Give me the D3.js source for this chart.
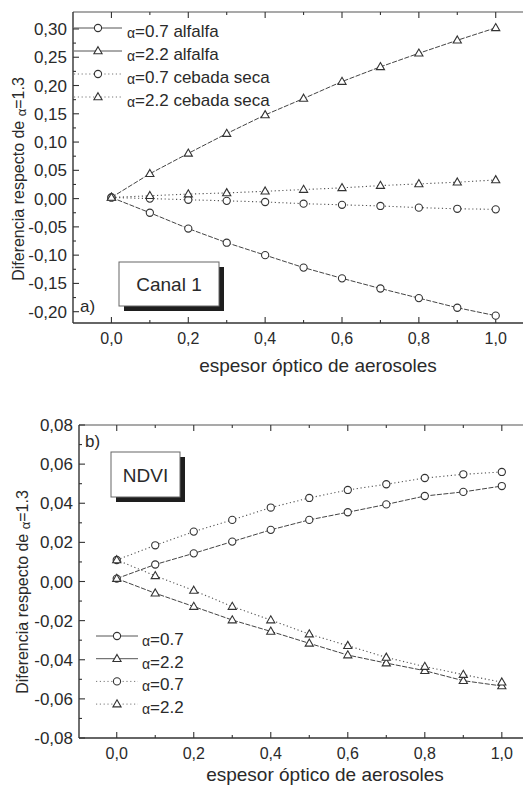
<!DOCTYPE html>
<html><head><meta charset="utf-8">
<script src="https://cdn.jsdelivr.net/npm/d3@7"></script>
<style>body{margin:0;background:#fff}text{font-family:"Liberation Sans",Arial,sans-serif;fill:#2a2a2a}</style>
</head><body>
<svg id="c" width="523" height="785"></svg>
<script>
const xs = [0,0.1,0.2,0.3,0.4,0.5,0.6,0.7,0.8,0.9,1.0];
// Panel a) Canal 1
const a07_alfalfa = [0.002,-0.025,-0.053,-0.078,-0.100,-0.122,-0.141,-0.159,-0.176,-0.193,-0.207];
const a22_alfalfa = [0.002,0.044,0.080,0.115,0.148,0.177,0.207,0.233,0.257,0.280,0.302];
const a07_cebada  = [0.002,0.000,-0.002,-0.004,-0.006,-0.009,-0.011,-0.013,-0.016,-0.018,-0.019];
const a22_cebada  = [0.002,0.005,0.008,0.010,0.013,0.016,0.019,0.023,0.026,0.029,0.033];
// Panel b) NDVI
const n07_solid  = [0.0015,0.0087,0.0144,0.0204,0.0264,0.0315,0.0354,0.0394,0.0437,0.0458,0.0488];
const n22_solid  = [0.0015,-0.0060,-0.0128,-0.0197,-0.0255,-0.0316,-0.0376,-0.0417,-0.0456,-0.0507,-0.0534];
const n07_dotted = [0.011,0.0185,0.0255,0.0315,0.0378,0.0427,0.0468,0.0497,0.0529,0.0548,0.0560];
const n22_dotted = [0.011,0.0029,-0.0046,-0.0128,-0.0197,-0.0269,-0.0328,-0.0388,-0.0435,-0.0476,-0.0515];

const xTicks = [0,0.2,0.4,0.6,0.8,1.0];
const xMinor = [0.1,0.3,0.5,0.7,0.9];
const yTicksA = [0.30,0.25,0.20,0.15,0.10,0.05,0.00,-0.05,-0.10,-0.15,-0.20];
const yTicksB = [0.08,0.06,0.04,0.02,0.00,-0.02,-0.04,-0.06,-0.08];
const legendA = ["0.7 alfalfa","2.2 alfalfa","0.7 cebada seca","2.2 cebada seca"];
const legendB = ["0.7","2.2","0.7","2.2"];
const xTitle = "espesor óptico de aerosoles";
const yTitle = "Diferencia respecto de ";

const svg = d3.select("#c");
const fmt = (d,n)=> d.toFixed(n).replace(".",",");
const ink = "#333";

function panel(cfg){
  const g = svg.append("g");
  const x = d3.scaleLinear().domain(cfg.xd).range([cfg.left, cfg.right]);
  const y = d3.scaleLinear().domain(cfg.yd).range([cfg.bottom, cfg.top]);
  g.append("line").attr("x1",cfg.left).attr("x2",cfg.right).attr("y1",cfg.bottom).attr("y2",cfg.bottom).attr("stroke",ink).attr("stroke-width",1.4);
  g.append("line").attr("x1",cfg.left).attr("x2",cfg.right).attr("y1",cfg.top).attr("y2",cfg.top).attr("stroke","#555").attr("stroke-width",1.2);
  g.append("line").attr("x1",cfg.left).attr("x2",cfg.left).attr("y1",cfg.top).attr("y2",cfg.bottom).attr("stroke",ink).attr("stroke-width",1.4);
  const tk = (arr,len)=>{
    arr.forEach(v=>{
      g.append("line").attr("x1",x(v)).attr("x2",x(v)).attr("y1",cfg.bottom).attr("y2",cfg.bottom-len).attr("stroke",ink).attr("stroke-width",1.1);
      g.append("line").attr("x1",x(v)).attr("x2",x(v)).attr("y1",cfg.top).attr("y2",cfg.top+len).attr("stroke",ink).attr("stroke-width",1.1);
    });
  };
  tk(xTicks,6); tk(xMinor,3);
  xTicks.forEach(v=>g.append("text").attr("x",x(v)).attr("y",cfg.bottom+21).attr("text-anchor","middle").attr("font-size",16).text(fmt(v,1)));
  cfg.yTicks.forEach(v=>{
    g.append("line").attr("x1",cfg.left).attr("x2",cfg.left+6).attr("y1",y(v)).attr("y2",y(v)).attr("stroke",ink).attr("stroke-width",1.1);
    g.append("text").attr("x",cfg.left-6).attr("y",y(v)+6).attr("text-anchor","end").attr("font-size",17).text(fmt(v,2));
  });
  cfg.yMinor.forEach(v=>{
    g.append("line").attr("x1",cfg.left).attr("x2",cfg.left+3).attr("y1",y(v)).attr("y2",y(v)).attr("stroke",ink).attr("stroke-width",1.1);
  });
  g.append("text").attr("x",cfg.xTitleX).attr("y",cfg.xTitleY).attr("text-anchor","middle").attr("font-size",19).text(xTitle);
  const yt = g.append("text").attr("transform",`translate(${cfg.yTitleX},${cfg.yTitleY}) rotate(-90)`).attr("text-anchor","middle").attr("font-size",16);
  yt.append("tspan").text(yTitle);
  yt.append("tspan").attr("font-size",13).attr("dy",2).text("α");
  yt.append("tspan").attr("dy",-2).text("=1.3");
  const line = d3.line().x((d,i)=>x(xs[i])).y(d=>y(d));
  cfg.series.forEach(s=>{
    g.append("path").attr("d",line(s.v)).attr("fill","none").attr("stroke",s.dot?"#555":"#444")
      .attr("stroke-width",s.dot?1.1:1).attr("stroke-dasharray",s.dot?"1.2,2.6":"5,1.5");
  });
  cfg.series.forEach(s=>{
    s.v.forEach((d,i)=>marker(g,s.m,x(xs[i]),y(d)));
  });
  cfg.legend.forEach((lab,i)=>{
    const s = cfg.series[i];
    const ly = cfg.legY + i*cfg.legDy;
    g.append("line").attr("x1",cfg.legX0).attr("x2",cfg.legX1).attr("y1",ly).attr("y2",ly)
      .attr("stroke",s.dot?"#777":"#555").attr("stroke-width",1).attr("stroke-dasharray",s.dot?"1.2,2.6":null);
    marker(g,s.m,(cfg.legX0+cfg.legX1)/2,ly);
    const t = g.append("text").attr("x",cfg.legTX).attr("y",ly+9).attr("font-size",17);
    t.append("tspan").attr("font-size",14).attr("dy",1).text("α");
    t.append("tspan").attr("dy",-1).text("="+lab);
  });
  const b = cfg.box;
  g.append("rect").attr("x",b.x+5).attr("y",b.y+5).attr("width",b.w).attr("height",b.h).attr("fill","#1e1e1e");
  g.append("rect").attr("x",b.x).attr("y",b.y).attr("width",b.w).attr("height",b.h).attr("fill","#fff").attr("stroke","#666").attr("stroke-width",1);
  g.append("text").attr("x",b.x+b.w/2).attr("y",b.y+b.h/2+7).attr("text-anchor","middle").attr("font-size",b.fs).text(b.t);
  g.append("text").attr("x",cfg.tagX).attr("y",cfg.tagY).attr("font-size",17).text(cfg.tag);
}
function marker(g,type,cx,cy){
  if(type==="o"){
    g.append("circle").attr("cx",cx).attr("cy",cy).attr("r",3.6).attr("fill","#fff").attr("stroke","#333").attr("stroke-width",1.1);
  } else {
    const r=4.3;
    g.append("path").attr("d",`M${cx},${cy-r}L${cx+r*0.95},${cy+r*0.65}L${cx-r*0.95},${cy+r*0.65}Z`).attr("fill","#fff").attr("stroke","#333").attr("stroke-width",1.1);
  }
}

panel({left:73,right:523,top:12,bottom:323,xd:[-0.1,1.071],yd:[-0.22,0.33],
  yTicks:yTicksA,yMinor:[0.275,0.225,0.175,0.125,0.075,0.025,-0.025,-0.075,-0.125,-0.175],
  xTitleX:318,xTitleY:372,yTitleX:24,yTitleY:179,
  series:[{v:a07_alfalfa,m:"o",dot:false},{v:a22_alfalfa,m:"t",dot:false},{v:a07_cebada,m:"o",dot:true},{v:a22_cebada,m:"t",dot:true}],
  legend:legendA,legX0:74,legX1:122,legY:28,legDy:23,legTX:127,
  box:{x:119,y:262,w:100,h:44,t:"Canal 1",fs:19},tag:"a)",tagX:80,tagY:312});

panel({left:79,right:523,top:425,bottom:738,xd:[-0.098,1.055],yd:[-0.08,0.08],
  yTicks:yTicksB,yMinor:[0.07,0.05,0.03,0.01,-0.01,-0.03,-0.05,-0.07],
  xTitleX:325,xTitleY:781,yTitleX:28,yTitleY:592,
  series:[{v:n07_solid,m:"o",dot:false},{v:n22_solid,m:"t",dot:false},{v:n07_dotted,m:"o",dot:true},{v:n22_dotted,m:"t",dot:true}],
  legend:legendB,legX0:96,legX1:138,legY:636,legDy:22.7,legTX:142,
  box:{x:111,y:452,w:69,h:45,t:"NDVI",fs:19},tag:"b)",tagX:85,tagY:447});
</script>
</body></html>
